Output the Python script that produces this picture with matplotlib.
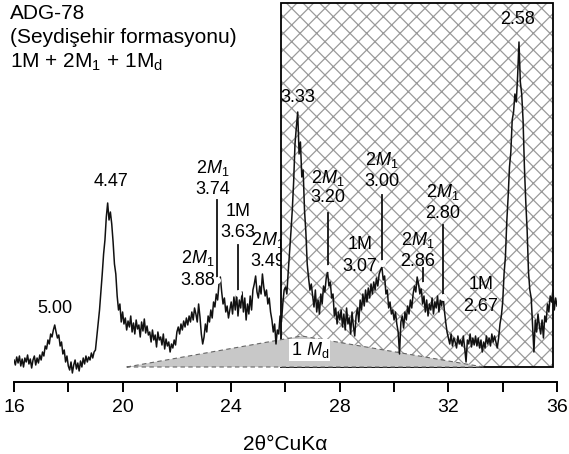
import numpy as np
import matplotlib
matplotlib.use("Agg")
import matplotlib.pyplot as plt
from matplotlib.patches import Rectangle, Polygon

plt.rcParams['font.family'] = ['Liberation Sans', 'DejaVu Sans']
plt.rcParams['mathtext.fontset'] = 'custom'
plt.rcParams['mathtext.rm'] = 'Liberation Sans'
plt.rcParams['mathtext.it'] = 'Liberation Sans:italic'
plt.rcParams['hatch.linewidth'] = 0.9

# --- data: 2theta grid (step 0.05) and counts ---
two_theta = np.round(np.linspace(16, 36, 401), 2)
i16 = [22, 17, 25, 19, 26, 16, 23, 15, 24, 20, 27, 18, 23, 14, 22, 26, 17, 24, 19, 27]
i17 = [22, 30, 26, 36, 33, 42, 38, 48, 45, 52, 57, 50, 44, 47, 36, 40, 28, 32, 20, 26]
i18 = [16, 12, 20, 9, 17, 22, 13, 19, 11, 21, 15, 24, 18, 26, 20, 25, 22, 29, 24, 30]
i19 = [32, 45, 58, 72, 90, 108, 128, 142, 165, 179, 162, 170, 158, 140, 118, 108, 86, 72, 78, 60]
i20 = [70, 58, 64, 52, 61, 55, 66, 50, 59, 48, 62, 53, 57, 45, 60, 51, 63, 49, 56, 47]
i21 = [50, 40, 52, 42, 47, 35, 50, 42, 45, 37, 48, 33, 43, 36, 40, 30, 38, 34, 42, 37]
i22 = [50, 55, 48, 58, 52, 61, 55, 64, 57, 66, 60, 70, 62, 74, 68, 60, 78, 65, 48, 38]
i23 = [45, 58, 50, 66, 60, 72, 64, 80, 75, 88, 82, 98, 105, 90, 78, 84, 70, 76, 64, 72]
i24 = [80, 68, 85, 72, 88, 66, 82, 74, 90, 70, 84, 62, 78, 68, 86, 72, 92, 98, 106, 90]
i25 = [84, 96, 88, 108, 95, 86, 92, 78, 84, 70, 62, 50, 58, 38, 52, 48, 66, 60, 78, 92]
i26 = [95, 88, 110, 130, 150, 172, 200, 238, 255, 270, 228, 240, 205, 212, 172, 150, 118, 104, 92, 98]
i27 = [86, 75, 92, 70, 82, 68, 88, 78, 96, 90, 104, 110, 96, 100, 84, 88, 66, 74, 58, 70]
i28 = [62, 72, 55, 68, 52, 74, 58, 64, 48, 70, 56, 46, 66, 74, 60, 82, 72, 88, 76, 92]
i29 = [80, 94, 84, 98, 88, 100, 92, 104, 96, 108, 112, 115, 102, 106, 88, 92, 74, 80, 68, 72]
i30 = [62, 70, 58, 50, 28, 60, 66, 54, 70, 62, 76, 68, 82, 74, 88, 96, 90, 105, 98, 88]
i31 = [94, 78, 86, 70, 82, 66, 78, 72, 84, 68, 80, 74, 86, 70, 82, 76, 88, 72, 60, 50]
i32 = [44, 38, 48, 36, 44, 40, 34, 46, 38, 42, 36, 46, 34, 20, 42, 38, 48, 35, 44, 37]
i33 = [46, 36, 44, 34, 42, 30, 40, 34, 46, 38, 44, 36, 48, 40, 46, 40, 34, 44, 58, 66]
i34 = [80, 108, 125, 160, 185, 215, 230, 262, 270, 288, 280, 306, 340, 300, 288, 262, 215, 180, 152, 110]
i35 = [92, 84, 58, 30, 62, 50, 68, 56, 48, 62, 44, 66, 60, 78, 70, 86, 80, 92, 72, 84, 76]
counts = np.array(i16 + i17 + i18 + i19 + i20 + i21 + i22 + i23 + i24 + i25
                  + i26 + i27 + i28 + i29 + i30 + i31 + i32 + i33 + i34 + i35)

# peak labels: (2theta, top text, bottom text, y of top, y of bottom)
peak_labels = [
    (22.78, r'2$\mathit{M}_1$', '3.88', 124, 101),
    (23.33, r'2$\mathit{M}_1$', '3.74', 214, 192),
    (24.25, '1M', '3.63', 170, 149),
    (25.36, r'2$\mathit{M}_1$', '3.49', 142, 120),
    (27.57, r'2$\mathit{M}_1$', '3.20', 204, 184),
    (28.74, '1M', '3.07', 137, 115),
    (29.55, r'2$\mathit{M}_1$', '3.00', 222, 200),
    (30.88, r'2$\mathit{M}_1$', '2.86', 142, 120),
    (31.80, r'2$\mathit{M}_1$', '2.80', 190, 168),
    (33.20, '1M', '2.67', 97, 75),
]
single_labels = [(17.51, '5.00', 73), (19.57, '4.47', 200),
                 (26.46, '3.33', 284), (34.56, '2.58', 362)]
# marker lines: (2theta, y bottom, y top)
marker_lines = [(23.48, 102, 182), (24.25, 89, 137), (27.57, 114, 169),
                (29.55, 119, 187), (31.06, 97, 114), (31.80, 85, 157)]

fig = plt.figure(figsize=(5.69, 4.54), dpi=100)
ax = fig.add_axes([0.0246, 0.1586, 0.9543, 0.8414])
ax.set_xlim(16, 36)
ax.set_ylim(0, 382)

# hatched box
ax.add_patch(Rectangle((25.85, 15), 10.0, 364, facecolor='white', edgecolor='#9a9a9a',
                       hatch='xx', linewidth=0, zorder=1))
ax.add_patch(Rectangle((25.85, 15), 10.0, 364, facecolor='none', edgecolor='black',
                       linewidth=1.3, zorder=1.1))
# 1Md hump
ax.add_patch(Polygon([(20.15, 15), (26.6, 46), (33.3, 15)], closed=True,
                     facecolor='#c8c8c8', edgecolor='#666666', linestyle=(0, (4, 3)),
                     linewidth=0.8, zorder=2))
ax.text(26.9, 32, r'1 $\mathit{M}_\mathrm{d}$', ha='center', va='center', fontsize=13,
        zorder=4, bbox=dict(facecolor='white', edgecolor='none', pad=1))

ax.plot(two_theta, counts, color='#111111', linewidth=1.1, zorder=3)

for x, y0, y1 in marker_lines:
    ax.plot([x, x], [y0, y1], color='#111111', linewidth=1.3, zorder=3)
    ax.plot(x, y0, 'o', color='white', markersize=5, markeredgewidth=0, zorder=3.5)

for x, top, bot, yt, yb in peak_labels:
    z = 0.5 if bot == '3.49' else 5
    ax.text(x, yt, top, ha='center', va='center', fontsize=13, zorder=z)
    ax.text(x, yb, bot, ha='center', va='center', fontsize=13, zorder=z)
for x, s, y in single_labels:
    ax.text(x, y, s, ha='center', va='center', fontsize=13, zorder=5)

ax.text(15.85, 368, 'ADG-78', ha='left', va='center', fontsize=15)
ax.text(15.85, 344, '(Seydişehir formasyonu)', ha='left', va='center', fontsize=15)
ax.text(15.85, 320, r'1M + 2M$_1$ + 1M$_\mathrm{d}$', ha='left', va='center', fontsize=15)

for side in ['top', 'right', 'left']:
    ax.spines[side].set_visible(False)
ax.spines['bottom'].set_linewidth(1.4)
ax.set_yticks([])
ax.set_xticks([16, 20, 24, 28, 32, 36])
ax.set_xticks([18, 22, 26, 30, 34], minor=True)
ax.tick_params(axis='x', which='both', direction='out', length=7, width=1.4, labelsize=14, pad=5)
ax.set_xlabel('2θ°CuKα', fontsize=15, labelpad=14)
ax.patch.set_alpha(0)

fig.savefig('out.png', dpi=100)
